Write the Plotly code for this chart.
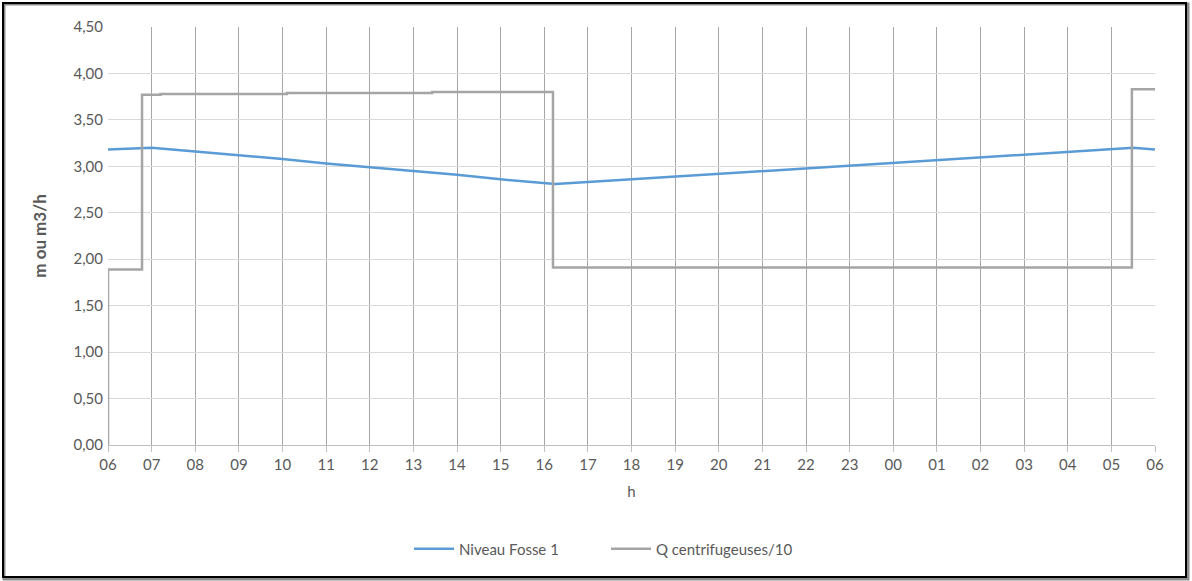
import plotly.graph_objects as go

# hours since 06:00 (6 = 06h, 30 = 06h next day)
hour_ticks = list(range(6, 31))
hour_labels = ["%02d" % (h % 24) for h in hour_ticks]

# Niveau Fosse 1 (m)
niveau_x = [6.0, 6.5, 7.0, 8.0, 9.0, 10.0, 11.0, 12.0, 13.0, 14.0, 15.0, 16.0, 16.25,
            17.0, 18.0, 19.0, 20.0, 21.0, 22.0, 23.0, 24.0, 25.0, 26.0, 27.0, 28.0, 29.0,
            29.5, 30.0]
niveau_y = [3.18, 3.19, 3.20, 3.16, 3.12, 3.08, 3.03, 2.99, 2.95, 2.91, 2.86, 2.82, 2.81,
            2.83, 2.86, 2.89, 2.92, 2.95, 2.98, 3.01, 3.04, 3.07, 3.10, 3.13, 3.16, 3.19,
            3.20, 3.18]

# Q centrifugeuses / 10 (m3/h) - step series
q_x = [6.0, 6.0, 6.78, 6.78, 7.2, 7.2, 10.1, 10.1, 13.43, 13.43, 16.2, 16.2, 29.47, 29.47, 30.0]
q_y = [0.0, 1.89, 1.89, 3.77, 3.77, 3.78, 3.78, 3.79, 3.79, 3.80, 3.80, 1.91, 1.91, 3.83, 3.83]

W, H = 1192, 581
ML, MR, MT, MB = 108, 37, 27, 136
pw = W - ML - MR
ph = H - MT - MB


def px_x(p):
    return (p - ML) / pw


def px_y(p):
    return (H - MB - p) / ph


font = "Lato, Carlito, Calibri, sans-serif"
txt = "#595959"

fig = go.Figure()
fig.add_trace(go.Scatter(x=niveau_x, y=niveau_y, mode="lines", name="Niveau Fosse 1",
                         line=dict(color="#5b9bd5", width=2.5)))
fig.add_trace(go.Scatter(x=q_x, y=q_y, mode="lines", name="Q centrifugeuses/10",
                         line=dict(color="#a5a5a5", width=2.5)))

# outer frame of the chart (gray shadow + black border)
fig.add_shape(type="rect", xref="paper", yref="paper",
              x0=px_x(4), x1=px_x(1188), y0=px_y(579), y1=px_y(4),
              line=dict(color="#8c8c8c", width=3), layer="above")
fig.add_shape(type="rect", xref="paper", yref="paper",
              x0=px_x(3), x1=px_x(1186), y0=px_y(577), y1=px_y(3),
              line=dict(color="black", width=2), layer="above")

fig.update_layout(
    width=W, height=H,
    margin=dict(l=ML, r=MR, t=MT, b=MB),
    paper_bgcolor="white", plot_bgcolor="white",
    separators=", ",
    font=dict(family=font, size=15, color=txt),
    showlegend=True,
    legend=dict(orientation="h", x=px_x(409), xanchor="left", y=px_y(549), yanchor="middle",
                font=dict(size=15, color=txt), itemwidth=40, entrywidth=142),
)
fig.update_xaxes(
    range=[6, 30], tickvals=hour_ticks, ticktext=hour_labels,
    showgrid=True, gridcolor="#a6a6a6", gridwidth=1,
    showline=True, linecolor="#bfbfbf", linewidth=1,
    ticks="outside", ticklen=6, tickcolor="#bfbfbf",
    zeroline=False, tickfont=dict(size=15, color=txt),
    title=dict(text="h", font=dict(size=15, color=txt), standoff=14),
)
fig.update_yaxes(
    range=[0, 4.5], dtick=0.5, tickformat=".2f",
    showgrid=True, gridcolor="#d9d9d9", gridwidth=1,
    showline=False, zeroline=False, ticks="", ticklabelstandoff=4,
    tickfont=dict(size=15, color=txt),
    title=dict(text="<b>m ou m3/h</b>", font=dict(size=17, color=txt), standoff=22),
)

# drop the default 8px body margin so the figure fills the window
fig.write_html("out.html", config={"displayModeBar": False},
               post_script="document.body.style.margin='0';")
